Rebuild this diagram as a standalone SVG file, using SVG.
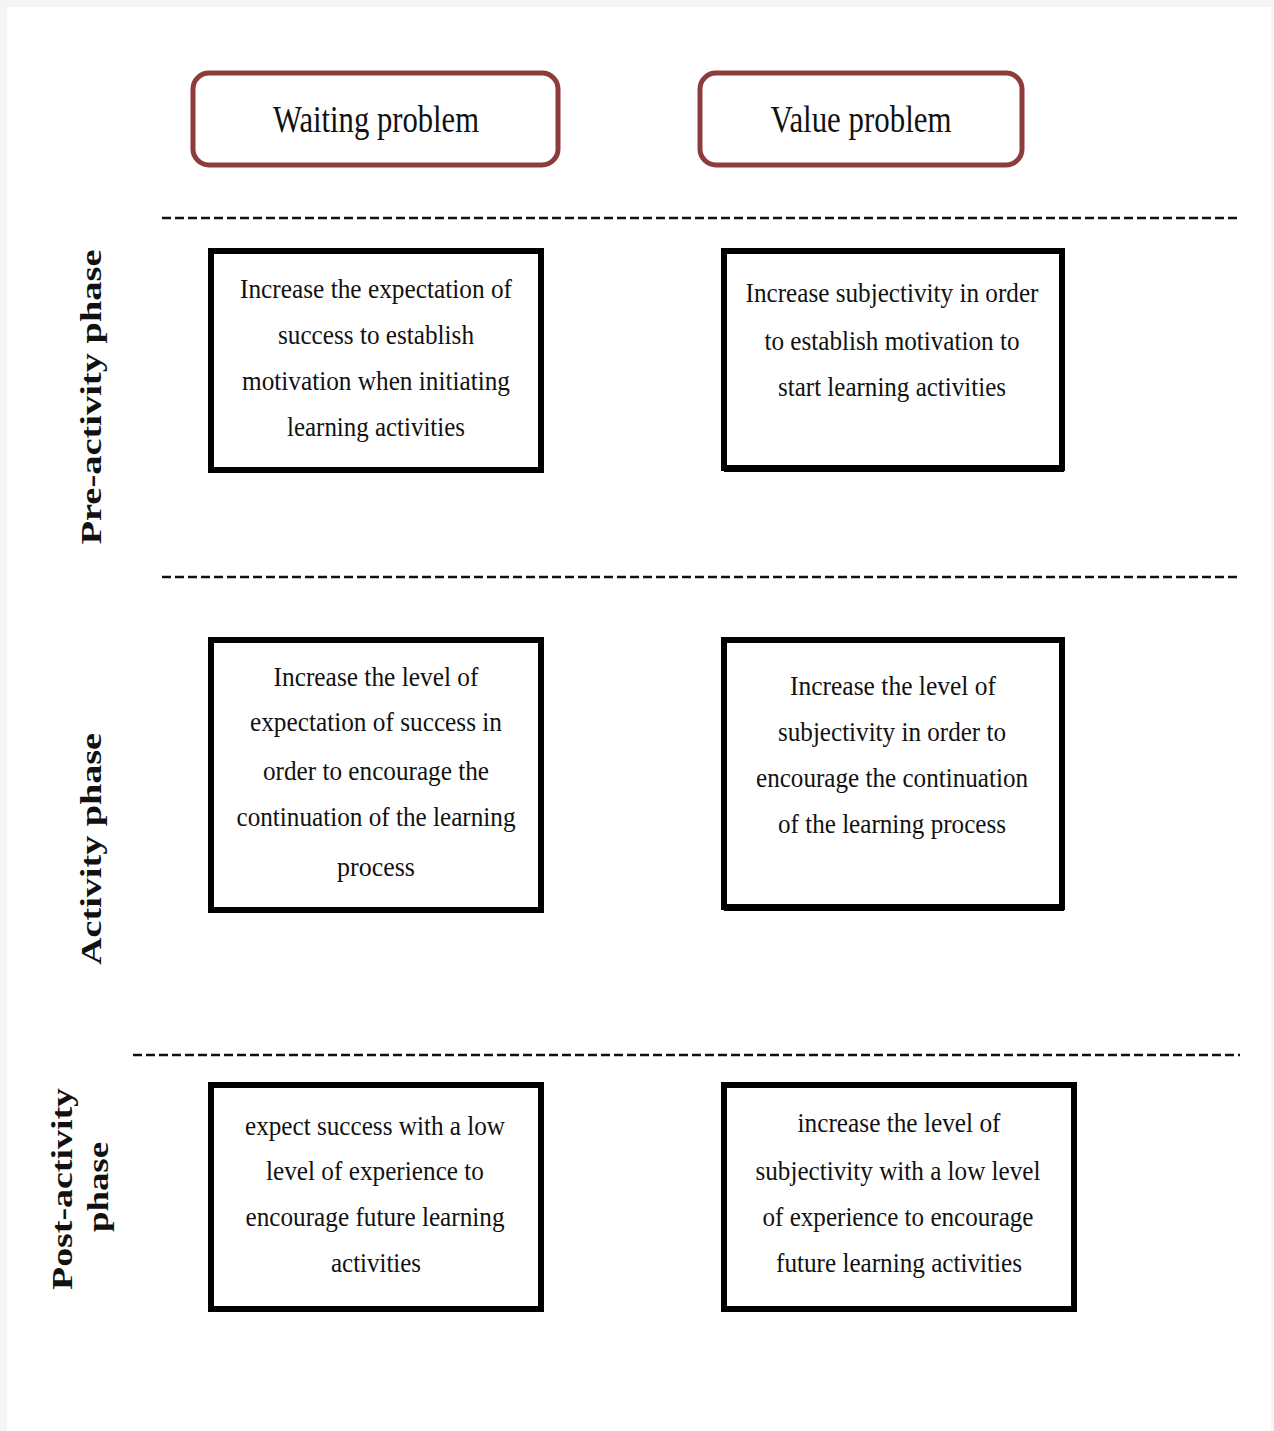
<svg xmlns="http://www.w3.org/2000/svg" width="1274" height="1431" viewBox="0 0 1274 1431">
<style>
.hdr{fill:#fff;stroke:#8e3b3b;stroke-width:5}
.box{fill:#fff;stroke:#000;stroke-width:6}
.sh{fill:none;stroke:#000;stroke-width:4}
.dash{stroke:#111;stroke-width:2.5;stroke-dasharray:9 4;fill:none}
.t{font-family:"Liberation Serif",serif;font-size:27px;fill:#111;text-anchor:middle}
.h{font-family:"Liberation Serif",serif;font-size:38px;fill:#111;text-anchor:middle}
.p{font-family:"Liberation Serif",serif;font-size:30px;font-weight:bold;fill:#111;text-anchor:middle}
</style>
<rect x="0" y="0" width="1274" height="1431" fill="#f5f5f5"/>
<rect x="7" y="7" width="1264" height="1424" fill="#fff"/>
<g id="connectors">
<line class="dash" x1="162" y1="218" x2="1240" y2="218"/>
<line class="dash" x1="162" y1="577" x2="1240" y2="577"/>
<line class="dash" x1="133" y1="1055" x2="1240" y2="1055"/>
</g>
<g id="waiting">
<rect class="hdr" x="193" y="73" width="365" height="92" rx="16"/>
<text class="h" x="376" y="132" textLength="206" lengthAdjust="spacingAndGlyphs">Waiting problem</text>
</g>
<g id="value">
<rect class="hdr" x="700" y="73" width="322" height="92" rx="16"/>
<text class="h" x="861" y="132" textLength="181" lengthAdjust="spacingAndGlyphs">Value problem</text>
</g>
<g id="label-pre">
<text class="p" transform="translate(101,397) rotate(-90)" textLength="295" lengthAdjust="spacingAndGlyphs">Pre-activity phase</text>
</g>
<g id="label-activity">
<text class="p" transform="translate(101,849) rotate(-90)" textLength="232" lengthAdjust="spacingAndGlyphs">Activity phase</text>
</g>
<g id="label-post">
<text class="p" transform="translate(72,1189) rotate(-90)" textLength="202" lengthAdjust="spacingAndGlyphs">Post-activity</text>
<text class="p" transform="translate(108,1187) rotate(-90)" textLength="90" lengthAdjust="spacingAndGlyphs">phase</text>
</g>
<g id="b1">
<rect class="box" x="211" y="251" width="330" height="219"/>
<text class="t" x="376" y="298" textLength="272" lengthAdjust="spacingAndGlyphs">Increase the expectation of</text>
<text class="t" x="376" y="344" textLength="196" lengthAdjust="spacingAndGlyphs">success to establish</text>
<text class="t" x="376" y="390" textLength="268" lengthAdjust="spacingAndGlyphs">motivation when initiating</text>
<text class="t" x="376" y="436" textLength="178" lengthAdjust="spacingAndGlyphs">learning activities</text>
</g>
<g id="b2">
<rect class="box" x="724" y="251" width="338" height="217"/>
<line class="sh" x1="724" y1="470" x2="1064" y2="470"/>
<text class="t" x="892" y="302" textLength="293" lengthAdjust="spacingAndGlyphs">Increase subjectivity in order</text>
<text class="t" x="892" y="350" textLength="255" lengthAdjust="spacingAndGlyphs">to establish motivation to</text>
<text class="t" x="892" y="396" textLength="228" lengthAdjust="spacingAndGlyphs">start learning activities</text>
</g>
<g id="b3">
<rect class="box" x="211" y="640" width="330" height="270"/>
<text class="t" x="376" y="686" textLength="205" lengthAdjust="spacingAndGlyphs">Increase the level of</text>
<text class="t" x="376" y="731" textLength="252" lengthAdjust="spacingAndGlyphs">expectation of success in</text>
<text class="t" x="376" y="780" textLength="226" lengthAdjust="spacingAndGlyphs">order to encourage the</text>
<text class="t" x="376" y="826" textLength="279" lengthAdjust="spacingAndGlyphs">continuation of the learning</text>
<text class="t" x="376" y="876" textLength="78" lengthAdjust="spacingAndGlyphs">process</text>
</g>
<g id="b4">
<rect class="box" x="724" y="640" width="338" height="267"/>
<line class="sh" x1="724" y1="909" x2="1064" y2="909"/>
<text class="t" x="893" y="695" textLength="206" lengthAdjust="spacingAndGlyphs">Increase the level of</text>
<text class="t" x="892" y="741" textLength="228" lengthAdjust="spacingAndGlyphs">subjectivity in order to</text>
<text class="t" x="892" y="787" textLength="272" lengthAdjust="spacingAndGlyphs">encourage the continuation</text>
<text class="t" x="892" y="833" textLength="228" lengthAdjust="spacingAndGlyphs">of the learning process</text>
</g>
<g id="b5">
<rect class="box" x="211" y="1085" width="330" height="224"/>
<text class="t" x="375" y="1135" textLength="260" lengthAdjust="spacingAndGlyphs">expect success with a low</text>
<text class="t" x="375" y="1180" textLength="218" lengthAdjust="spacingAndGlyphs">level of experience to</text>
<text class="t" x="375" y="1226" textLength="259" lengthAdjust="spacingAndGlyphs">encourage future learning</text>
<text class="t" x="376" y="1272" textLength="90" lengthAdjust="spacingAndGlyphs">activities</text>
</g>
<g id="b6">
<rect class="box" x="724" y="1085" width="350" height="224"/>
<text class="t" x="899" y="1132" textLength="203" lengthAdjust="spacingAndGlyphs">increase the level of</text>
<text class="t" x="898" y="1180" textLength="285" lengthAdjust="spacingAndGlyphs">subjectivity with a low level</text>
<text class="t" x="898" y="1226" textLength="271" lengthAdjust="spacingAndGlyphs">of experience to encourage</text>
<text class="t" x="899" y="1272" textLength="246" lengthAdjust="spacingAndGlyphs">future learning activities</text>
</g>
</svg>
